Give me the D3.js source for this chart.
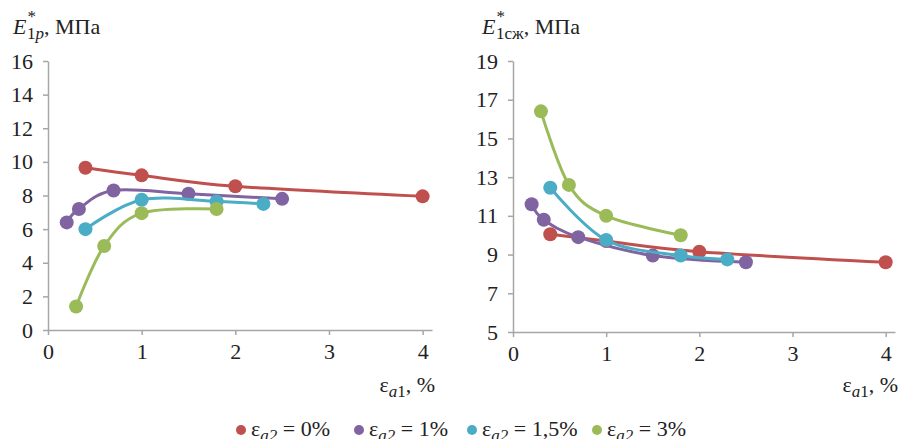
<!DOCTYPE html>
<html>
<head>
<meta charset="utf-8">
<script src="https://cdn.jsdelivr.net/npm/d3@7"></script>
</head>
<body style="margin:0">
<svg width="901" height="439"></svg>
<script>
var width = 901;
var height = 439;
var fontName = 'Liberation Serif';

// series names and colours (legend order)
var seriesNames = ['0%', '1%', '1,5%', '3%'];
var seriesColors = ['#c0504d', '#8064a2', '#4bacc6', '#9bbb59'];

// left chart: E*1p
var leftRed    = [[0.4, 9.65], [1.0, 9.2], [2.0, 8.55], [4.0, 7.95]];
var leftPurple = [[0.2, 6.4], [0.33, 7.2], [0.7, 8.3], [1.5, 8.1], [2.5, 7.8]];
var leftBlue   = [[0.4, 6.0], [1.0, 7.75], [1.8, 7.65], [2.3, 7.5]];
var leftGreen  = [[0.3, 1.4], [0.6, 5.0], [1.0, 6.95], [1.8, 7.2]];

// right chart: E*1cж
var rightRed    = [[0.4, 10.05], [1.0, 9.7], [2.0, 9.15], [4.0, 8.6]];
var rightPurple = [[0.2, 11.6], [0.33, 10.8], [0.7, 9.9], [1.5, 8.95], [2.5, 8.6]];
var rightBlue   = [[0.4, 12.45], [1.0, 9.75], [1.8, 8.95], [2.3, 8.75]];
var rightGreen  = [[0.3, 16.4], [0.6, 12.6], [1.0, 11.0], [1.8, 10.0]];

var xTicks = [0, 1, 2, 3, 4];
var leftYTicks = [0, 2, 4, 6, 8, 10, 12, 14, 16];
var rightYTicks = [5, 7, 9, 11, 13, 15, 17, 19];

var svg = d3.select('svg');

// set the face on each text node directly
function face(sel, size) {
  return sel.attr('font-family', fontName)
      .style('font-family', fontName)
      .attr('font-size', size);
}

function drawPanel(opt) {
  var x = d3.scaleLinear().domain([0, 4.1]).range(opt.xRange);
  var y = d3.scaleLinear().domain(opt.yDomain).range(opt.yRange);

  var g = svg.append('g');

  var xAxis = g.append('g')
      .attr('transform', 'translate(0,' + opt.yRange[0] + ')')
      .call(d3.axisBottom(x).tickValues(xTicks).tickFormat(d3.format('d'))
        .tickSizeInner(5).tickSizeOuter(0).tickPadding(8));
  var yAxis = g.append('g')
      .attr('transform', 'translate(' + opt.xRange[0] + ',0)')
      .call(d3.axisLeft(y).tickValues(opt.yTicks).tickFormat(d3.format('d'))
        .tickSizeInner(5).tickSizeOuter(0).tickPadding(10));

  [xAxis, yAxis].forEach(function (a) {
    a.attr('font-family', fontName).attr('font-size', 22);
    a.selectAll('path, line').attr('stroke', '#a6a6a6').attr('stroke-width', 1.5);
    face(a.selectAll('text'), 22).attr('fill', '#222');
  });

  var line = d3.line()
      .x(function (d) { return x(d[0]); })
      .y(function (d) { return y(d[1]); })
      .curve(d3.curveCardinal.tension(0));

  opt.series.forEach(function (s, i) {
    g.append('path')
        .datum(s)
        .attr('d', line)
        .attr('fill', 'none')
        .attr('stroke', seriesColors[i])
        .attr('stroke-width', 3);
    g.selectAll('.pt' + i)
        .data(s)
        .enter()
        .append('circle')
        .attr('cx', function (d) { return x(d[0]); })
        .attr('cy', function (d) { return y(d[1]); })
        .attr('r', 7)
        .attr('fill', seriesColors[i]);
  });

  // y title
  var t = face(g.append('text'), 22)
      .attr('x', opt.titleX)
      .attr('y', 34)
      .attr('fill', '#222');
  t.append('tspan').attr('font-style', 'italic').text('E');
  t.append('tspan').attr('dx', 1).attr('dy', -12).attr('font-size', 17).text('*');
  t.append('tspan').attr('dx', -9).attr('dy', 17).attr('font-size', 17).text('1');
  t.append('tspan').attr('font-size', 17).attr('font-style', opt.subItalic ? 'italic' : 'normal').text(opt.sub);
  t.append('tspan').attr('dy', -5).text(', МПа');

  // x title
  var xt = face(g.append('text'), 22)
      .attr('x', opt.xRange[1] + 3)
      .attr('y', 392)
      .attr('text-anchor', 'end')
      .attr('fill', '#222');
  xt.append('tspan').text('ε');
  xt.append('tspan').attr('dy', 5).attr('font-size', 17).attr('font-style', 'italic').text('a');
  xt.append('tspan').attr('font-size', 17).text('1');
  xt.append('tspan').attr('dy', -5).text(', %');
}

drawPanel({
  xRange: [48, 432],
  yDomain: [0, 16],
  yRange: [330, 61],
  yTicks: leftYTicks,
  series: [leftRed, leftPurple, leftBlue, leftGreen],
  titleX: 13,
  sub: 'p',
  subItalic: true
});

drawPanel({
  xRange: [513, 895],
  yDomain: [5, 19],
  yRange: [332, 61],
  yTicks: rightYTicks,
  series: [rightRed, rightPurple, rightBlue, rightGreen],
  titleX: 482,
  sub: 'сж',
  subItalic: false
});

// legend
var legendX = [241, 359, 472, 597];
var legend = svg.append('g');
seriesNames.forEach(function (name, i) {
  legend.append('circle')
      .attr('cx', legendX[i])
      .attr('cy', 430)
      .attr('r', 5)
      .attr('fill', seriesColors[i]);
  var lt = face(legend.append('text'), 22)
      .attr('x', legendX[i] + 10)
      .attr('y', 436)
      .attr('fill', '#222');
  lt.append('tspan').text('ε');
  lt.append('tspan').attr('dy', 5).attr('font-size', 17).attr('font-style', 'italic').text('a2');
  lt.append('tspan').attr('dy', -5).text(' = ' + name);
});
</script>
</body>
</html>
